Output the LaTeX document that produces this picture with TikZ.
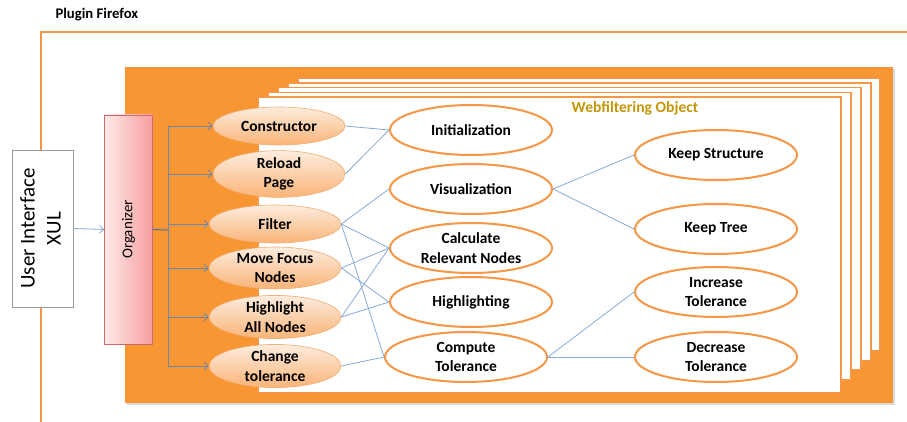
\documentclass[tikz,border=0pt]{standalone}
\usepackage{fontspec}
\setmainfont{Carlito}
\usepackage{graphicx}
\usetikzlibrary{shapes.geometric,arrows.meta}
\definecolor{orfill}{RGB}{247,150,50}
\definecolor{orline}{RGB}{247,150,70}
\definecolor{conn}{RGB}{135,170,215}
\definecolor{trk}{RGB}{110,135,170}
\definecolor{orgline}{RGB}{70,110,180}
\definecolor{peachT}{RGB}{253,236,222}
\definecolor{peachB}{RGB}{249,180,120}
\definecolor{peachD}{RGB}{242,172,112}
\definecolor{pinkL}{RGB}{254,234,234}
\definecolor{pinkR}{RGB}{248,158,158}
\definecolor{pinkD}{RGB}{205,105,105}
\definecolor{gold}{RGB}{196,150,10}
\begin{document}
\begin{tikzpicture}[x=1pt,y=-1pt,
  leftell/.style={ellipse, minimum width=132pt, minimum height=38pt, inner sep=0pt,
    top color=peachT, bottom color=peachB, draw=peachD, line width=0.6pt,
    font=\fontsize{15.5}{19.5}\selectfont\bfseries, align=center},
  midell/.style={ellipse, minimum width=162pt, minimum height=50pt, inner sep=0pt,
    fill=white, draw=orline, line width=2pt,
    font=\fontsize{15.5}{19.5}\selectfont\bfseries, align=center},
  link/.style={draw=conn, line width=0.8pt},
  branch/.style={draw=trk, line width=0.9pt, -{Straight Barb[length=4pt,width=8pt]}},
  pagebox/.style={fill=white, draw=orline, line width=1.5pt}
]
\useasboundingbox (0,0) rectangle (907,422);
\fill[white] (0,0) rectangle (907,422);

% outer plugin frame
\draw[orline, line width=2pt] (41,422) -- (41,32) -- (907,32);
\node[anchor=west, font=\fontsize{14.7}{16}\selectfont\bfseries] (plug) at (52,15) {Plugin Firefox};

% orange container with shadow
\fill[black!15] (127,69) rectangle (895,405);
\fill[orfill] (125,67) rectangle (893,403);

% stacked pages
\draw[pagebox] (298,78.2) rectangle (880,351);
\draw[pagebox] (288,82.9) rectangle (871,361);
\draw[pagebox] (278,87.6) rectangle (861,370);
\draw[pagebox] (268,92.3) rectangle (851,380);
\draw[pagebox] (258,97) rectangle (841,393);

\node[font=\fontsize{15.6}{17}\selectfont\bfseries, text=gold] (wf) at (635,108) {Webfiltering Object};

% user interface box
\node[draw=black!40, fill=white, line width=0.8pt, minimum width=61pt, minimum height=157pt, inner sep=0pt]
  (ui) at (42.5,228.5)
  {\rotatebox{90}{\fontsize{21}{26}\selectfont\begin{tabular}{@{}c@{}}User Interface\\XUL\end{tabular}}};

% organizer
\node[left color=pinkL, right color=pinkR, draw=pinkD, line width=0.6pt,
  minimum width=48pt, minimum height=229pt, inner sep=0pt]
  (org) at (128.5,229.5) {\rotatebox{90}{\fontsize{15}{17}\selectfont Organizer}};

\draw[draw=conn, line width=0.8pt, -{Straight Barb[length=4pt,width=8pt]}] (ui.east) -- (org.west);

% left ellipses
\node[leftell] (cons) at (279,126) {Constructor};
\node[leftell, minimum height=40pt] (reload) at (279,174) {Reload\\Page};
\node[leftell] (filter) at (275,224) {Filter};
\node[leftell] (move) at (275,268) {Move Focus\\Nodes};
\node[leftell] (hlall) at (275,317) {Highlight\\All Nodes};
\node[leftell] (change) at (275,366) {Change\\tolerance};

% trunk
\coordinate (tr) at (168,230);
\draw[orgline, line width=1pt] (org.east) -- (tr);
\draw[trk, line width=0.9pt] (tr |- cons.west) -- (tr |- change.west);
\foreach \n in {cons,reload,filter,move,hlall,change}
  \draw[branch] (tr |- \n.west) -- (\n.west);

% middle ellipses
\node[midell] (init) at (471,130) {Initialization};
\node[midell] (vis) at (471,189) {Visualization};
\node[midell] (calc) at (471,248) {Calculate\\Relevant Nodes};
\node[midell] (hl) at (471,302) {Highlighting};
\node[midell] (comp) at (466,357) {Compute\\Tolerance};

% right ellipses
\node[midell] (keeps) at (716,155) {Keep Structure};
\node[midell] (keept) at (716,229) {Keep Tree};
\node[midell] (inc) at (716,292) {Increase\\Tolerance};
\node[midell] (dec) at (716,357) {Decrease\\Tolerance};

% links
\draw[link] (cons.east) -- (init.west);
\draw[link] (reload.east) -- (init.west);
\draw[link] (filter.east) -- (vis.west);
\draw[link] (filter.east) -- (calc.west);
\draw[link] (filter.east) -- (comp.west);
\draw[link] (move.east) -- (calc.west);
\draw[link] (move.east) -- (hl.west);
\draw[link] (hlall.east) -- (calc.west);
\draw[link] (hlall.east) -- (hl.west);
\draw[link] (change.east) -- (comp.west);
\draw[link] (vis.east) -- (keeps.west);
\draw[link] (vis.east) -- (keept.west);
\draw[link] (comp.east) -- (inc.west);
\draw[link] (comp.east) -- (dec.west);
\end{tikzpicture}
\end{document}
